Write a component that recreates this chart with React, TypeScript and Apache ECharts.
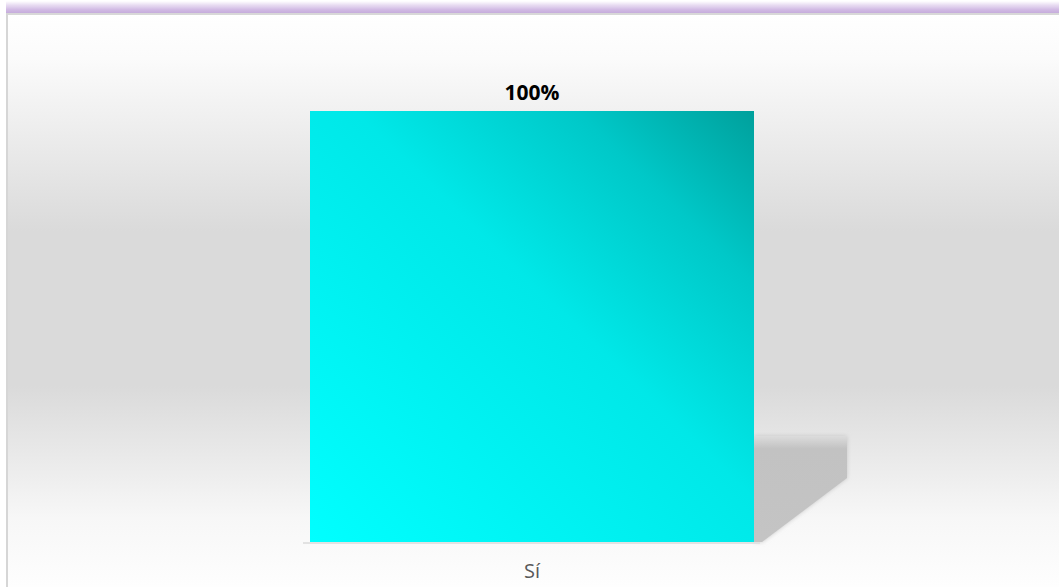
import React, { useEffect, useRef } from "react";
import * as echarts from "echarts";

const categories = ["Sí"];
const values = [100];
const yMax = 100;

export default function App() {
  const ref = useRef<HTMLDivElement>(null);
  useEffect(() => {
    if (!ref.current) return;
    const chart = echarts.init(ref.current, undefined, { renderer: "svg" });
    chart.setOption({
      animation: false,
      backgroundColor: "#ffffff",
      grid: { left: 310, right: 305, top: 111, bottom: 45, containLabel: false },
      xAxis: {
        type: "category",
        data: categories,
        axisLine: { show: false },
        axisTick: { show: false },
        axisLabel: {
          color: "#595959",
          fontSize: 20,
          fontFamily: "Open Sans",
          margin: 18,
        },
      },
      yAxis: {
        type: "value",
        min: 0,
        max: yMax,
        show: false,
        splitLine: { show: false },
      },
      graphic: [
        {
          type: "rect",
          z: -10,
          shape: { x: 8, y: 13, width: 1051, height: 574 },
          style: {
            fill: new echarts.graphic.LinearGradient(0, 0, 0, 1, [
              { offset: 0, color: "#ffffff" },
              { offset: 0.08, color: "#fbfbfb" },
              { offset: 0.38, color: "#dadada" },
              { offset: 0.65, color: "#dadada" },
              { offset: 0.88, color: "#f7f7f7" },
              { offset: 1, color: "#fefefe" },
            ]),
          },
        },
        {
          type: "rect",
          z: -9,
          shape: { x: 6, y: 1, width: 1053, height: 12 },
          style: {
            fill: new echarts.graphic.LinearGradient(0, 0, 0, 1, [
              { offset: 0, color: "rgba(215,195,230,0)" },
              { offset: 0.35, color: "rgba(212,190,230,0.55)" },
              { offset: 0.7, color: "rgba(205,180,225,0.9)" },
              { offset: 1, color: "rgba(198,172,220,1)" },
            ]),
          },
        },
        {
          type: "line",
          z: -8,
          shape: { x1: 8, y1: 14, x2: 1059, y2: 14 },
          style: { stroke: "#d8d8d8", lineWidth: 2 },
        },
        {
          type: "line",
          z: -8,
          shape: { x1: 7, y1: 13, x2: 7, y2: 587 },
          style: { stroke: "#d6d6d6", lineWidth: 2 },
        },
        {
          type: "polygon",
          z: -7,
          shape: {
            points: [
              [754, 436],
              [847, 436],
              [847, 478],
              [762, 542],
              [754, 542],
            ],
          },
          style: {
            fill: new echarts.graphic.LinearGradient(0, 0, 0, 1, [
              { offset: 0, color: "#dcdcdc" },
              { offset: 0.12, color: "#c2c2c2" },
              { offset: 1, color: "#c4c4c4" },
            ]),
            shadowBlur: 4,
            shadowColor: "rgba(190,190,190,0.8)",
          },
        },
        {
          type: "line",
          z: -6,
          shape: { x1: 303, y1: 543, x2: 760, y2: 543 },
          style: { stroke: "#e2e2e2", lineWidth: 2 },
        },
      ],
      series: [
        {
          type: "bar",
          data: values,
          barWidth: "100%",
          itemStyle: {
            color: new echarts.graphic.LinearGradient(0, 1, 1, 0, [
              { offset: 0, color: "#00FFFF" },
              { offset: 0.55, color: "#00E8E8" },
              { offset: 0.8, color: "#00C8C8" },
              { offset: 1, color: "#00A09C" },
            ]),
          },
          label: {
            show: true,
            position: "top",
            distance: 9,
            formatter: "{c}%",
            color: "#000000",
            fontWeight: "bold",
            fontSize: 21,
            fontFamily: "Open Sans",
          },
        },
      ],
    });
    return () => chart.dispose();
  }, []);
  return (
    <div
      ref={ref}
      style={{ position: "fixed", left: 0, top: 0, width: 1059, height: 587 }}
    />
  );
}
